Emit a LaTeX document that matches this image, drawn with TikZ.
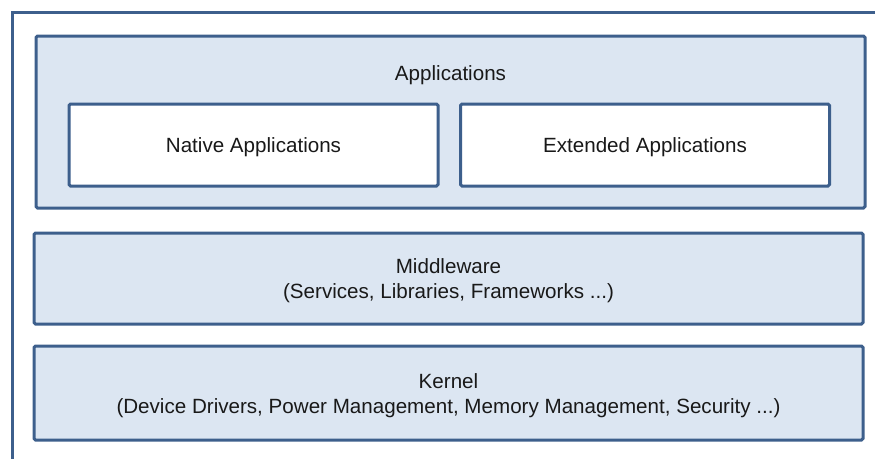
\documentclass[tikz,border=0pt]{standalone}
\usepackage{fontspec}
\setmainfont{Liberation Sans}
\definecolor{layerline}{RGB}{61,95,140}
\definecolor{layerfill}{RGB}{220,230,242}

\begin{document}
\begin{tikzpicture}[x=1pt,y=-1pt,
        layer/.style={draw=layerline,fill=layerfill,line width=3pt,rounded corners=1.5pt},
        appbox/.style={draw=layerline,fill=white,line width=3pt,rounded corners=1.5pt,
                       minimum width=369pt,minimum height=82pt},
        txt/.style={font=\fontsize{20.6}{25}\selectfont,align=center,text=black!90,yshift=-2.5pt}]
        \useasboundingbox (0,0) rectangle (875,458);

        % outer frame
        \draw[layerline,line width=3pt] (12.5,470) -- (12.5,12.5) -- (890,12.5);

        \coordinate (AP) at (450.5,122);
        \coordinate (NA) at (253.5,145);
        \coordinate (EA) at (645,145);
        \coordinate (MW) at (448.5,278.5);
        \coordinate (KN) at (448.5,393);

        \node[layer,minimum width=829pt,minimum height=172pt] (apps) at (AP) {};
        \node[txt] (appstitle) at (450.5,73) {Applications};
        \node[appbox] (native) at (NA) {};
        \node[txt]    at (native) {Native Applications};
        \node[appbox] (extended) at (EA) {};
        \node[txt]    at (extended) {Extended Applications};

        \node[layer,minimum width=829pt,minimum height=91pt]  (middleware) at (MW) {};
        \node[txt] at (middleware) {Middleware\\(Services, Libraries, Frameworks ...)};
        \node[layer,minimum width=829pt,minimum height=94pt]  (kernel) at (KN) {};
        \node[txt] at (kernel) {Kernel\\(Device Drivers, Power Management, Memory Management, Security ...)};
    \end{tikzpicture}
\end{document}
